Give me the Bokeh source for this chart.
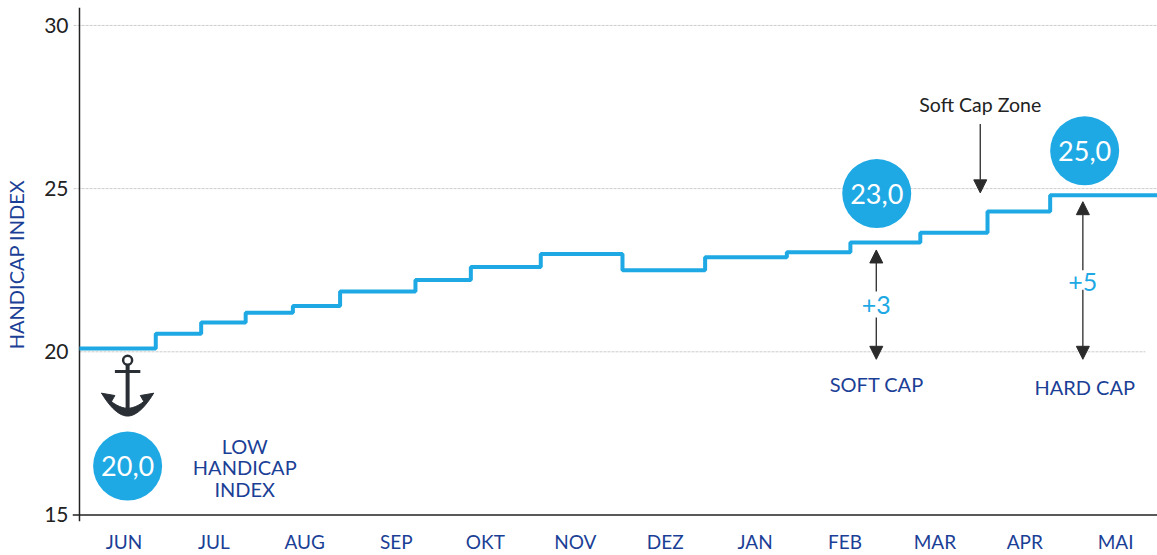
from bokeh.plotting import figure
from bokeh.embed import file_html
from bokeh.resources import INLINE
from bokeh.core.properties import value
from bokeh.models import Arrow, NormalHead, FixedTicker
import numpy as np

months = ["JUN", "JUL", "AUG", "SEP", "OKT", "NOV", "DEZ", "JAN", "FEB", "MAR", "APR", "MAI"]
month_pos = [0.49, 1.48, 2.48, 3.49, 4.47, 5.46, 6.45, 7.44, 8.43, 9.42, 10.41, 11.41]
step_x = [0, 0.84, 1.34, 1.83, 2.35, 2.87, 3.70, 4.31, 5.08, 5.98, 6.89, 7.79, 8.49, 9.26, 10.0, 10.69, 11.88]
index_y = [20.1, 20.55, 20.9, 21.2, 21.4, 21.85, 22.2, 22.6, 23.0, 22.5, 22.9, 23.05, 23.35, 23.65, 24.3, 24.8, 24.8]
y_ticks = [15, 20, 25, 30]
bubble_x = [0.53, 8.78, 11.07]
bubble_y = [16.5, 24.85, 26.16]
bubble_labels = ["20,0", "23,0", "25,0"]

FONT = "Lato"
BLUE = "#1ea9e4"
NAVY = "#1b3f96"
DARK = "#222222"

p = figure(width=1157, height=555, output_backend="svg", toolbar_location=None,
           x_range=(-0.077, 11.872), y_range=(14.80, 30.55),
           min_border_left=72, min_border_right=0, min_border_top=7, min_border_bottom=33,
           outline_line_color=None, background_fill_color="white", border_fill_color="white")
p.grid.visible = False

ax = p.xaxis[0]
ax.ticker = FixedTicker(ticks=month_pos)
ax.major_label_overrides = {m: l for m, l in zip(month_pos, months)}
ax.axis_line_color = None
ax.major_tick_line_color = None
ax.major_tick_in = 0
ax.major_tick_out = 0
ax.minor_tick_line_color = None
ax.major_label_standoff = 8
ax.major_label_text_font = FONT
ax.major_label_text_font_size = "19px"
ax.major_label_text_color = NAVY

ay = p.yaxis[0]
ay.ticker = FixedTicker(ticks=y_ticks)
ay.axis_line_color = None
ay.major_tick_line_color = None
ay.major_tick_in = 0
ay.major_tick_out = 0
ay.minor_tick_line_color = None
ay.major_label_standoff = 4
ay.major_label_text_font = FONT
ay.major_label_text_font_size = "21px"
ay.major_label_text_color = DARK
ay.axis_label = "HANDICAP INDEX"
ay.axis_label_text_font = FONT
ay.axis_label_text_font_style = "normal"
ay.axis_label_text_font_size = "20px"
ay.axis_label_text_color = NAVY
ay.axis_label_standoff = 13

p.segment(x0=[-0.065, -0.065], x1=[11.872, 11.872], y0=[30, 25], y1=[30, 25],
          line_color="#cccccc", line_width=1, line_dash="3 1")
p.segment(x0=[0.0], x1=[11.74], y0=[20], y1=[20], line_color="#cccccc", line_width=1, line_dash="3 1")
p.segment(x0=[-0.077], x1=[11.872], y0=[15], y1=[15], line_color=DARK, line_width=1.5)
p.segment(x0=[0], x1=[0], y0=[14.80], y1=[30.55], line_color=DARK, line_width=1.5)

p.step(step_x, index_y, mode="after", line_color=BLUE, line_width=4)

p.scatter(bubble_x, bubble_y, size=69, marker="circle", fill_color=BLUE, line_color=None)
p.text(bubble_x, bubble_y, text=bubble_labels, text_color="white", text_font=value(FONT),
       text_font_size="27px", text_align="center", text_baseline="middle")

def lab(x, y, t, color=NAVY, size="20px"):
    p.text([x], [y], text=[t], text_color=color, text_font=value(FONT), text_font_size=size,
           text_align="center", text_baseline="middle")

lab(1.82, 17.1, "LOW")
lab(1.82, 16.47, "HANDICAP")
lab(1.82, 15.8, "INDEX")
lab(8.78, 19.0, "SOFT CAP")
lab(11.07, 18.93, "HARD CAP")
lab(9.92, 27.57, "Soft Cap Zone", color="#222222", size="19.5px")
lab(8.775, 21.42, "+3", color=BLUE, size="25px")
lab(11.05, 22.15, "+5", color=BLUE, size="25px")

def arrow(x, y0, y1):
    p.add_layout(Arrow(end=NormalHead(size=13, fill_color="#2b2b2b", line_color="#2b2b2b"),
                       x_start=x, x_end=x, y_start=y0, y_end=y1,
                       line_color="#2b2b2b", line_width=1.3))

arrow(8.775, 21.85, 23.12)
arrow(8.775, 21.05, 19.77)
arrow(11.05, 22.5, 24.6)
arrow(11.05, 21.9, 19.77)
arrow(9.92, 26.98, 24.87)

# anchor
A = "#2a2f36"
ax0 = 0.53
p.scatter([ax0], [19.74], size=9, marker="circle", fill_color="white", line_color=A, line_width=2.5)
p.segment([ax0], [19.6], [ax0], [18.1], line_color=A, line_width=4)
p.segment([ax0 - 0.14], [19.40], [ax0 + 0.14], [19.40], line_color=A, line_width=3)
t = np.linspace(-1, 1, 25)
outer_x = ax0 + 0.286 * t
outer_y = 18.03 + 0.70 * np.abs(t) ** 1.9
inner_x = ax0 + 0.21 * t[::-1]
inner_y = 18.27 + 0.28 * np.abs(t[::-1]) ** 1.9
p.patch(list(outer_x) + list(inner_x), list(outer_y) + list(inner_y), fill_color=A, line_color=A)
p.patch([ax0 + 0.286, ax0 + 0.14, ax0 + 0.19], [18.73, 18.66, 18.42], fill_color=A, line_color=A)
p.patch([ax0 - 0.286, ax0 - 0.14, ax0 - 0.19], [18.73, 18.66, 18.42], fill_color=A, line_color=A)

open("out.html", "w").write(file_html(p, INLINE))
